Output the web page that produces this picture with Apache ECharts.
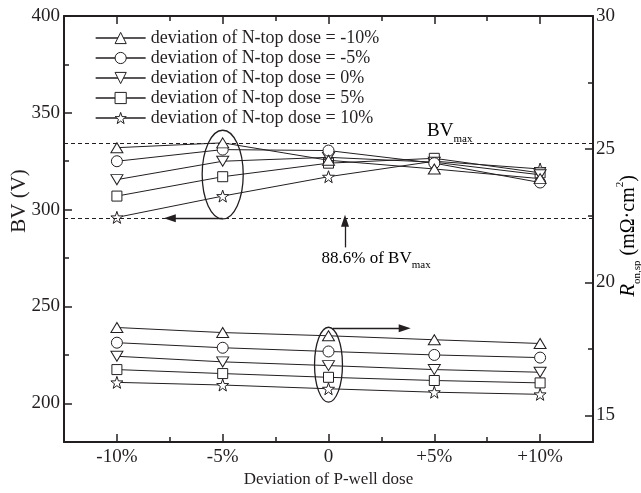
<!DOCTYPE html>
<html>
<head>
<meta charset="utf-8">
<script src="https://cdn.jsdelivr.net/npm/echarts@6/dist/echarts.min.js"></script>
<style>
    html, body { margin: 0; padding: 0; background: #fff; }
    #chart { width: 641px; height: 493px; }
</style>
</head>
<body>
<div id="chart"></div>
<script>
// P-well dose deviation (%) on the x axis
const xValues = [-10, -5, 0, 5, 10];
const xMajor = [-10, -5, 0, 5, 10];
const xMinor = [-7.5, -2.5, 2.5, 7.5];
const xTickText = {'-10': '-10%', '-5': '-5%', '0': '0', '5': '+5%', '10': '+10%'};

const seriesNames = [
    'deviation of N-top dose = -10%',
    'deviation of N-top dose = -5%',
    'deviation of N-top dose = 0%',
    'deviation of N-top dose = 5%',
    'deviation of N-top dose = 10%'
];

// breakdown voltage BV (V), left axis
const bvM10 = [332, 334.5, 325.5, 321, 316];
const bvM5 = [325, 331, 330.5, 324, 314];
const bv0 = [315.5, 325, 327, 324.5, 318];
const bvP5 = [307, 317, 324, 326.5, 319];
const bvP10 = [296, 307, 317, 325, 321];

// specific on-resistance (mOhm.cm2), right axis
const ronM10 = [18.30, 18.11, 17.99, 17.84, 17.70];
const ronM5 = [17.73, 17.54, 17.40, 17.27, 17.17];
const ron0 = [17.22, 17.01, 16.87, 16.72, 16.62];
const ronP5 = [16.72, 16.57, 16.43, 16.31, 16.22];
const ronP10 = [16.24, 16.14, 16.00, 15.87, 15.79];

const bvTicks = [200, 250, 300, 350, 400];
const bvMinor = [225, 275, 325, 375];
const ronTicks = [15, 20, 25, 30];
const ronMinor = [17.5, 22.5, 27.5];

const bvMax = 334.5;
const bv886 = 295.5;

const ink = '#231f20';
const serif = '"Liberation Serif", "DejaVu Serif", serif';

const symbols = [
    'triangle',
    'circle',
    'path://M0,0L10,0L5,9Z',
    'rect',
    'path://M10,0L12.35,6.76L19.51,6.91L13.8,11.24L15.88,18.09L10,14L4.12,18.09L6.2,11.24L0.49,6.91L7.65,6.76Z'
];
const symbolSizes = [[12, 10], 11, [12, 10], 10, 12];

function tickAxis(position, min, max, values, len, withLine) {
    return {
        type: 'value',
        position: position,
        min: min,
        max: max,
        axisLine: {show: withLine, onZero: false, lineStyle: {color: ink, width: 2}},
        axisTick: {show: true, inside: true, length: len, customValues: values, lineStyle: {color: ink, width: 1.5}},
        axisLabel: {show: false},
        splitLine: {show: false}
    };
}

function make_series(name, i, data, yIdx) {
    return {
        name: name,
        type: 'line',
        xAxisIndex: 0,
        yAxisIndex: yIdx,
        data: xValues.map(function (x, k) { return [x, data[k]]; }),
        symbol: symbols[i],
        symbolSize: symbolSizes[i],
        lineStyle: {color: ink, width: 1},
        itemStyle: {color: '#fff', borderColor: ink, borderWidth: 1},
        emphasis: {disabled: true},
        z: 3 + (4 - i)
    };
}

const bvAll = [bvM10, bvM5, bv0, bvP5, bvP10];
const ronAll = [ronM10, ronM5, ron0, ronP5, ronP10];

let series = [];
seriesNames.forEach(function (n, i) { series.push(make_series(n, i, bvAll[i], 0)); });
seriesNames.forEach(function (n, i) { series.push(make_series(n, i, ronAll[i], 1)); });

// dashed reference lines + arrows
series[0].markLine = {
    silent: true,
    symbol: ['none', 'none'],
    label: {show: false},
    lineStyle: {color: ink, type: [4, 3], width: 1},
    data: [{yAxis: bvMax}, {yAxis: bv886}]
};
series[1].markLine = {
    silent: true,
    symbol: ['none', 'triangle'],
    symbolSize: [8, 12],
    label: {show: false},
    lineStyle: {color: ink, type: 'solid', width: 1.3},
    data: [
        [{coord: [-5, bv886]}, {coord: [-7.5, bv886]}],
        [{coord: [0.78, 280.5]}, {coord: [0.78, 294.2]}]
    ]
};
series[5].markLine = {
    silent: true,
    symbol: ['none', 'triangle'],
    symbolSize: [8, 12],
    label: {show: false},
    lineStyle: {color: ink, type: 'solid', width: 1.3},
    data: [[{coord: [0.2, 18.27]}, {coord: [3.6, 18.27]}]]
};

const legendItems = seriesNames.map(function (n, i) {
    return {
        name: n,
        itemStyle: {color: '#fff', borderColor: ink, borderWidth: 1},
        lineStyle: {color: ink, width: 1.3}
    };
});

var option = {
    animation: false,
    grid: {left: 64, right: 48, top: 16, bottom: 51},
    legend: {
        data: legendItems,
        orient: 'vertical',
        left: 90,
        top: 24,
        itemWidth: 50,
        itemHeight: 14,
        itemGap: 2,
        selectedMode: false,
        itemStyle: {color: '#fff', borderColor: ink, borderWidth: 1},
        lineStyle: {color: ink, width: 1.3},
        textStyle: {fontFamily: serif, fontSize: 18, color: ink}
    },
    xAxis: [
        {
            type: 'value',
            position: 'bottom',
            min: -12.5,
            max: 12.5,
            axisLine: {onZero: false, lineStyle: {color: ink, width: 2}},
            axisTick: {inside: true, length: 8, customValues: xMajor, lineStyle: {color: ink, width: 1.5}},
            axisLabel: {
                customValues: xMajor,
                margin: 6,
                fontFamily: serif,
                fontSize: 19,
                color: ink,
                formatter: function (v) { return xTickText[String(v)]; }
            },
            splitLine: {show: false}
        },
        tickAxis('top', -12.5, 12.5, xMajor, 8, true),
        tickAxis('bottom', -12.5, 12.5, xMinor, 5, false),
        tickAxis('top', -12.5, 12.5, xMinor, 5, false)
    ],
    yAxis: [
        {
            type: 'value',
            position: 'left',
            min: 180,
            max: 400,
            axisLine: {show: true, onZero: false, lineStyle: {color: ink, width: 2}},
            axisTick: {inside: true, length: 8, customValues: bvTicks, lineStyle: {color: ink, width: 1.5}},
            axisLabel: {customValues: bvTicks, margin: 4, fontFamily: serif, fontSize: 19, color: ink},
            splitLine: {show: false}
        },
        {
            type: 'value',
            position: 'right',
            min: 14,
            max: 30,
            axisLine: {show: true, onZero: false, lineStyle: {color: ink, width: 2}},
            axisTick: {inside: true, length: 8, customValues: ronTicks, lineStyle: {color: ink, width: 1.5}},
            axisLabel: {customValues: ronTicks, margin: 3, fontFamily: serif, fontSize: 19, color: ink},
            splitLine: {show: false}
        },
        tickAxis('left', 180, 400, bvMinor, 5, false),
        tickAxis('right', 14, 30, ronMinor, 5, false)
    ],
    series: series
};

var chart = echarts.init(document.getElementById('chart'));
chart.setOption(option);

// annotations: ellipses and texts placed from data coordinates
function px(x, y, yIdx) {
    return chart.convertToPixel({xAxisIndex: 0, yAxisIndex: yIdx}, [x, y]);
}

function ellipse_at(xc, xHalf, yTop, yBottom, yIdx) {
    var a = px(xc - xHalf, yTop, yIdx);
    var b = px(xc + xHalf, yBottom, yIdx);
    return {
        type: 'ellipse',
        silent: true,
        shape: {cx: (a[0] + b[0]) / 2, cy: (a[1] + b[1]) / 2, rx: (b[0] - a[0]) / 2, ry: (b[1] - a[1]) / 2},
        style: {fill: 'none', stroke: ink, lineWidth: 1.3},
        z: 10
    };
}

var bvLabelPos = px(4.66, bvMax, 0);
var pctLabelPos = px(-0.33, 276, 0);
var grid_rect = chart.getModel().getComponent('grid').coordinateSystem.getRect();

var subRich = {
    a: {fontFamily: serif, fontSize: 19, color: ink, verticalAlign: 'bottom', lineHeight: 22},
    s: {fontFamily: serif, fontSize: 11, color: ink, verticalAlign: 'bottom', lineHeight: 22, padding: [0, 0, -4, 0]}
};

chart.setOption({
    graphic: [
        ellipse_at(-5, 0.97, 341, 295.2, 0),
        ellipse_at(0, 0.66, 18.31, 15.5, 1),
        {
            type: 'text', silent: true, z: 10,
            x: bvLabelPos[0], y: bvLabelPos[1] - 2,
            style: {text: '{a|BV}{s|max}', rich: subRich, verticalAlign: 'bottom', align: 'left'}
        },
        {
            type: 'text', silent: true, z: 10,
            x: pctLabelPos[0], y: pctLabelPos[1],
            style: {
                text: '{a|88.6% of BV}{s|max}',
                rich: {
                    a: {fontFamily: serif, fontSize: 17, color: ink, verticalAlign: 'bottom', lineHeight: 20},
                    s: subRich.s
                },
                verticalAlign: 'middle', align: 'left'
            }
        },
        {
            type: 'text', silent: true, z: 10,
            x: 19, y: 201, rotation: Math.PI / 2,
            style: {text: 'BV (V)', fontFamily: serif, fontSize: 21, fill: ink, align: 'center', verticalAlign: 'middle'}
        },
        {
            type: 'text', silent: true, z: 10,
            x: 627, y: 236, rotation: Math.PI / 2,
            style: {
                text: '{r|R}{s|on,sp}{n| (mΩ·cm}{p|2}{n|)}',
                rich: {
                    r: {fontFamily: serif, fontStyle: 'italic', fontSize: 21, color: ink, verticalAlign: 'bottom', lineHeight: 24},
                    s: {fontFamily: serif, fontSize: 11, color: ink, verticalAlign: 'bottom', lineHeight: 24, padding: [0, 0, -4, 0]},
                    n: {fontFamily: serif, fontSize: 20, color: ink, verticalAlign: 'bottom', lineHeight: 24},
                    p: {fontFamily: serif, fontSize: 11, color: ink, verticalAlign: 'top', lineHeight: 24}
                },
                align: 'center', verticalAlign: 'middle'
            }
        },
        {
            type: 'text', silent: true, z: 10,
            x: grid_rect.x + grid_rect.width / 2, y: 480,
            style: {text: 'Deviation of P-well dose', fontFamily: serif, fontSize: 17, fill: ink, align: 'center', verticalAlign: 'middle'}
        }
    ]
});
</script>
</body>
</html>
